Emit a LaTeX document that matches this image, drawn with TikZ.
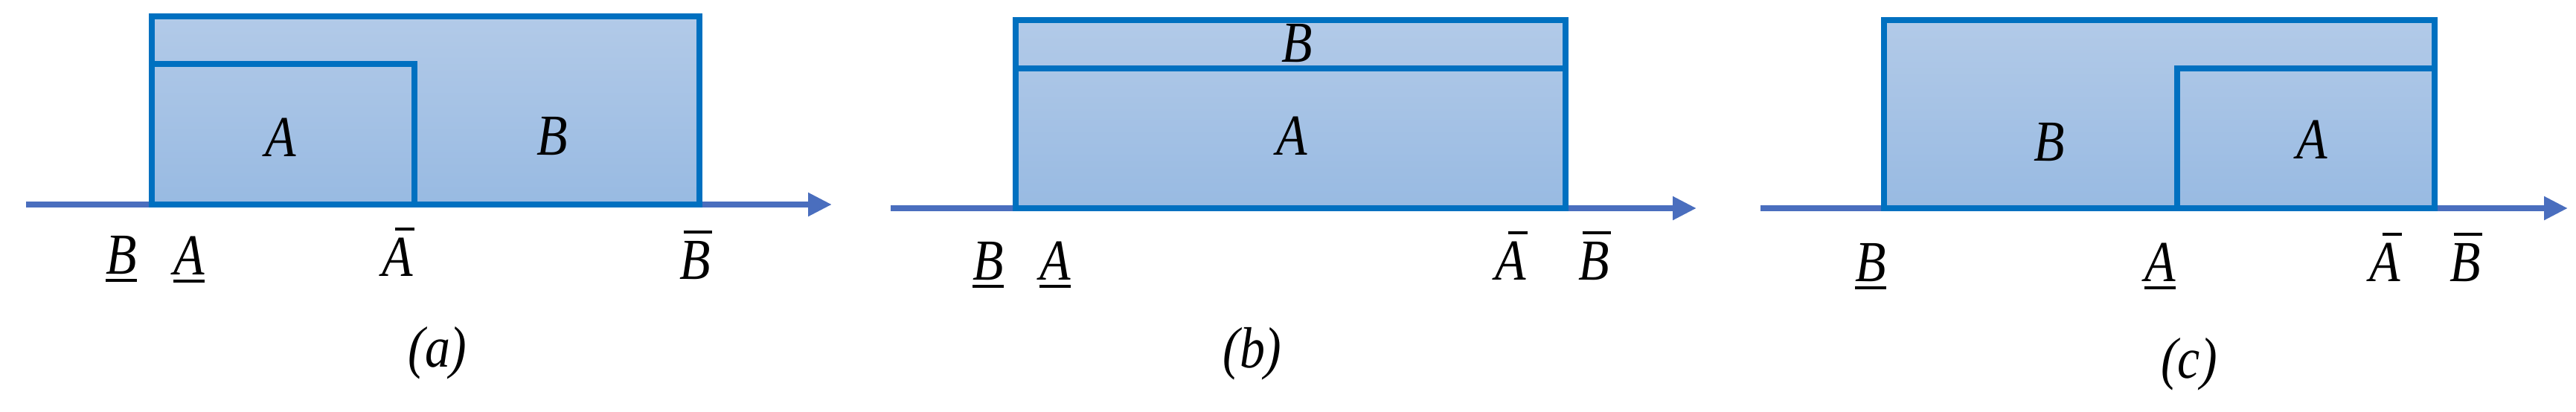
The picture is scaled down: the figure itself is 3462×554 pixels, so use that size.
\documentclass[tikz,border=0pt]{standalone}
\usepackage{fontspec}
\setmainfont{Liberation Serif}
\usepackage{graphicx}
\usetikzlibrary{arrows.meta}
\definecolor{edge}{HTML}{0070C0}
\definecolor{axisc}{HTML}{4A6EBE}
\definecolor{filltop}{HTML}{B2CAE8}
\definecolor{fillbot}{HTML}{98BAE2}
\newcommand\cnd[1]{\scalebox{0.87}[1]{#1}}
\newcommand\ulet[1]{\vtop{\hbox{#1}\kern7pt\hrule height 4pt}}
\newcommand\olet[3]{\leavevmode\rlap{\hskip#1\vrule width #2 height 65pt depth -61pt}#3}
\tikzset{
  lbl/.style={font=\fontsize{78}{80}\selectfont\itshape, inner sep=0pt, anchor=base},
  inlbl/.style={font=\fontsize{78}{80}\selectfont\itshape, inner sep=0pt, anchor=center},
  edgebox/.style={draw=edge, line width=8pt},
  bluefill/.style={top color=filltop, bottom color=fillbot, draw=none},
  axisline/.style={draw=axisc, line width=8pt, -{Triangle[length=32pt,width=30pt]}},
}
\begin{document}
\begin{tikzpicture}[x=1pt,y=-1pt]
\useasboundingbox[fill=white] (0,0) rectangle (3462,554);
% ---------- panel (a)
\fill[bluefill] (204,22) rectangle (940,275);
\coordinate (a0) at (35,275);
\coordinate (a1) at (1118,275);
\draw[axisline] (a0) -- (a1);
\draw[edgebox] (204,22) rectangle (940,275);
\draw[edgebox] (204,86) rectangle (557,275);
\node[inlbl] (aA) at (377,185) {\cnd{A}};
\node[inlbl] (aB) at (742,183) {\cnd{B}};
\node[lbl] (aBl) at (163,368) {\cnd{\ulet{B}}};
\node[lbl] (aAl) at (254,369) {\cnd{\ulet{A}}};
\node[lbl] (aAu) at (534,371) {\cnd{\olet{20pt}{30pt}{A}}};
\node[lbl] (aBu) at (934,375) {\cnd{\olet{6pt}{44pt}{B}}};
\node[inlbl] (acap) at (588,475) {\cnd{(a)}};
% ---------- panel (b)
\fill[bluefill] (1365,27) rectangle (2104,280);
\coordinate (b0) at (1197,280);
\coordinate (b1) at (2280,280);
\draw[axisline] (b0) -- (b1);
\draw[edgebox] (1365,27) rectangle (2104,280);
\draw[edgebox] (1365,92) -- (2104,92);
\node[inlbl] (bB) at (1743,58) {\cnd{B}};
\node[inlbl] (bA) at (1736,183) {\cnd{A}};
\node[lbl] (bBl) at (1328,376) {\cnd{\ulet{B}}};
\node[lbl] (bAl) at (1418,376) {\cnd{\ulet{A}}};
\node[lbl] (bAu) at (2030,376) {\cnd{\olet{20pt}{30pt}{A}}};
\node[lbl] (bBu) at (2142,376) {\cnd{\olet{6pt}{44pt}{B}}};
\node[inlbl] (bcap) at (1683,476) {\cnd{(b)}};
% ---------- panel (c)
\fill[bluefill] (2532,27) rectangle (3272,280);
\coordinate (c0) at (2366,280);
\coordinate (c1) at (3451,280);
\draw[axisline] (c0) -- (c1);
\draw[edgebox] (2532,27) rectangle (3272,280);
\draw[edgebox] (2926,92) rectangle (3272,280);
\node[inlbl] (cB) at (2754,191) {\cnd{B}};
\node[inlbl] (cA) at (3107,188) {\cnd{A}};
\node[lbl] (cBl) at (2514,378) {\cnd{\ulet{B}}};
\node[lbl] (cAl) at (2903,378) {\cnd{\ulet{A}}};
\node[lbl] (cAu) at (3205,378) {\cnd{\olet{20pt}{30pt}{A}}};
\node[lbl] (cBu) at (3313,378) {\cnd{\olet{6pt}{44pt}{B}}};
\node[inlbl] (ccap) at (2942,490) {\cnd{(c)}};
\end{tikzpicture}
\end{document}
